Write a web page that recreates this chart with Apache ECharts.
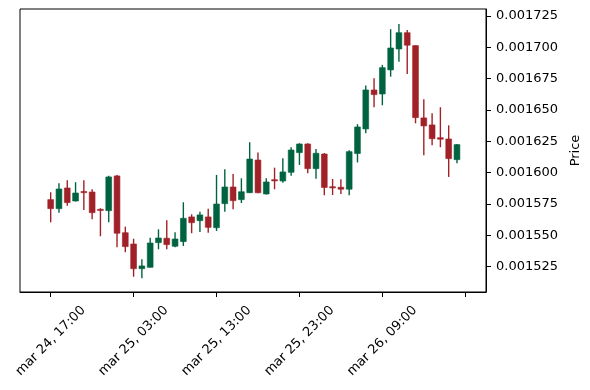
<!DOCTYPE html>
<html>
<head>
<meta charset="utf-8">
<script src="https://cdn.jsdelivr.net/npm/echarts@6/dist/echarts.min.js"></script>
<style>html,body{margin:0;padding:0;background:#fff}#c{width:590px;height:390px}</style>
</head>
<body>
<div id="c"></div>
<script>
const times = [
  'mar 24, 17:00','mar 24, 18:00','mar 24, 19:00','mar 24, 20:00','mar 24, 21:00','mar 24, 22:00','mar 24, 23:00',
  'mar 25, 00:00','mar 25, 01:00','mar 25, 02:00','mar 25, 03:00','mar 25, 04:00','mar 25, 05:00','mar 25, 06:00',
  'mar 25, 07:00','mar 25, 08:00','mar 25, 09:00','mar 25, 10:00','mar 25, 11:00','mar 25, 12:00','mar 25, 13:00',
  'mar 25, 14:00','mar 25, 15:00','mar 25, 16:00','mar 25, 17:00','mar 25, 18:00','mar 25, 19:00','mar 25, 20:00',
  'mar 25, 21:00','mar 25, 22:00','mar 25, 23:00','mar 26, 00:00','mar 26, 01:00','mar 26, 02:00','mar 26, 03:00',
  'mar 26, 04:00','mar 26, 05:00','mar 26, 06:00','mar 26, 07:00','mar 26, 08:00','mar 26, 09:00','mar 26, 10:00',
  'mar 26, 11:00','mar 26, 12:00','mar 26, 13:00','mar 26, 14:00','mar 26, 15:00','mar 26, 16:00','mar 26, 17:00',
  'mar 26, 18:00'
];
const opens = [
  0.0015785,0.0015713,0.0015878,0.0015774,0.0015850,0.0015846,0.0015708,0.0015697,0.0015974,0.0015521,
  0.0015431,0.0015234,0.0015245,0.0015442,0.0015477,0.0015413,0.0015450,0.0015647,0.0015617,0.0015647,
  0.0015561,0.0015753,0.0015886,0.0015785,0.0015840,0.0016101,0.0015830,0.0015944,0.0015934,0.0016003,
  0.0016160,0.0016229,0.0016032,0.0016149,0.0015888,0.0015884,0.0015868,0.0016153,0.0016349,0.0016660,
  0.0016628,0.0016820,0.0016987,0.0017117,0.0017014,0.0016437,0.0016381,0.0016279,0.0016269,0.0016104
];
const highs = [
  0.0015844,0.0015916,0.0015940,0.0015924,0.0015940,0.0015868,0.0015716,0.0015976,0.0015982,0.0015569,
  0.0015473,0.0015309,0.0015481,0.0015548,0.0015620,0.0015525,0.0015764,0.0015668,0.0015689,0.0015713,
  0.0015982,0.0016027,0.0015990,0.0015955,0.0016243,0.0016161,0.0015955,0.0016040,0.0016115,0.0016203,
  0.0016235,0.0016235,0.0016189,0.0016157,0.0015950,0.0015948,0.0016179,0.0016387,0.0016696,0.0016753,
  0.0016860,0.0017145,0.0017187,0.0017139,0.0017015,0.0016586,0.0016474,0.0016522,0.0016378,0.0016229
];
const lows = [
  0.0015604,0.0015681,0.0015737,0.0015770,0.0015702,0.0015628,0.0015493,0.0015604,0.0015405,0.0015365,
  0.0015170,0.0015157,0.0015244,0.0015389,0.0015389,0.0015405,0.0015415,0.0015517,0.0015527,0.0015521,
  0.0015535,0.0015689,0.0015708,0.0015758,0.0015838,0.0015835,0.0015826,0.0015868,0.0015920,0.0015976,
  0.0016062,0.0015995,0.0015952,0.0015820,0.0015822,0.0015830,0.0015820,0.0016082,0.0016315,0.0016522,
  0.0016538,0.0016766,0.0016886,0.0016788,0.0016394,0.0016139,0.0016219,0.0016203,0.0015966,0.0016075
];
const closes = [
  0.0015713,0.0015870,0.0015761,0.0015838,0.0015842,0.0015681,0.0015702,0.0015966,0.0015517,0.0015410,
  0.0015234,0.0015256,0.0015439,0.0015479,0.0015426,0.0015471,0.0015636,0.0015601,0.0015663,0.0015564,
  0.0015750,0.0015886,0.0015777,0.0015848,0.0016109,0.0015840,0.0015926,0.0015938,0.0016006,0.0016181,
  0.0016229,0.0016032,0.0016155,0.0015882,0.0015881,0.0015868,0.0016168,0.0016365,0.0016660,0.0016623,
  0.0016838,0.0016995,0.0017117,0.0017017,0.0016439,0.0016373,0.0016271,0.0016267,0.0016112,0.0016224
];
const xTickPositions = [0, 10, 20, 30, 40, 50];
const xLabelPositions = [0, 10, 20, 30, 40];
const yTicks = [0.001525, 0.001550, 0.001575, 0.001600, 0.001625, 0.001650, 0.001675, 0.001700, 0.001725];

const UP = '#006340', DOWN = '#A02128';
const data = opens.map((o, i) => [i, o, closes[i], lows[i], highs[i]]);

const chart = echarts.init(document.getElementById('c'), null, {renderer: 'canvas'});
const font = {fontFamily: 'DejaVu Sans', fontSize: 13, color: '#000'};
chart.setOption({
  animation: false,
  backgroundColor: '#fff',
  grid: {left: 20, right: 104, top: 9, bottom: 98, show: true, borderColor: '#000', borderWidth: 1,
         backgroundColor: 'transparent', containLabel: false, outerBoundsMode: 'none'},
  xAxis: {
    type: 'value', min: -3.7, max: 52.5,
    axisLine: {show: true, onZero: false, lineStyle: {color: '#000', width: 1}},
    axisTick: {show: true, length: 5, lineStyle: {color: '#000'}, customValues: xTickPositions},
    axisLabel: {
      ...font, rotate: 45, margin: 49, align: 'center', verticalAlign: 'middle',
      customValues: xLabelPositions,
      formatter: v => times[Math.round(v)] || ''
    },
    splitLine: {show: false}
  },
  yAxis: {
    type: 'value', position: 'right', min: 0.0015048, max: 0.0017306, scale: true,
    name: 'Price', nameLocation: 'middle', nameGap: 74, nameRotate: 90,
    nameTextStyle: {...font},
    axisLine: {show: true, onZero: false, lineStyle: {color: '#000', width: 1}},
    axisTick: {show: true, length: 5, lineStyle: {color: '#000'}, customValues: yTicks},
    axisLabel: {...font, margin: 10, customValues: yTicks, formatter: v => v.toFixed(6)},
    splitLine: {show: false}
  },
  series: [{
    type: 'custom',
    data: data,
    encode: {x: 0, y: [1, 2, 3, 4]},
    renderItem: function (params, api) {
      const x = api.value(0), o = api.value(1), c = api.value(2), l = api.value(3), h = api.value(4);
      const po = api.coord([x, o]), pc = api.coord([x, c]);
      const pl = api.coord([x, l]), ph = api.coord([x, h]);
      const w = api.size([1, 0])[0] * 0.7;
      const color = c >= o ? UP : DOWN;
      const top = Math.min(po[1], pc[1]);
      const hgt = Math.max(Math.abs(po[1] - pc[1]), 1.2);
      return {
        type: 'group',
        children: [
          {type: 'line', shape: {x1: po[0], y1: ph[1], x2: po[0], y2: pl[1]}, style: {stroke: color, lineWidth: 1.4}},
          {type: 'rect', shape: {x: po[0] - w / 2, y: top, width: w, height: hgt}, style: {fill: color, stroke: color, lineWidth: 0.6}}
        ]
      };
    }
  }]
});
</script>
</body>
</html>
